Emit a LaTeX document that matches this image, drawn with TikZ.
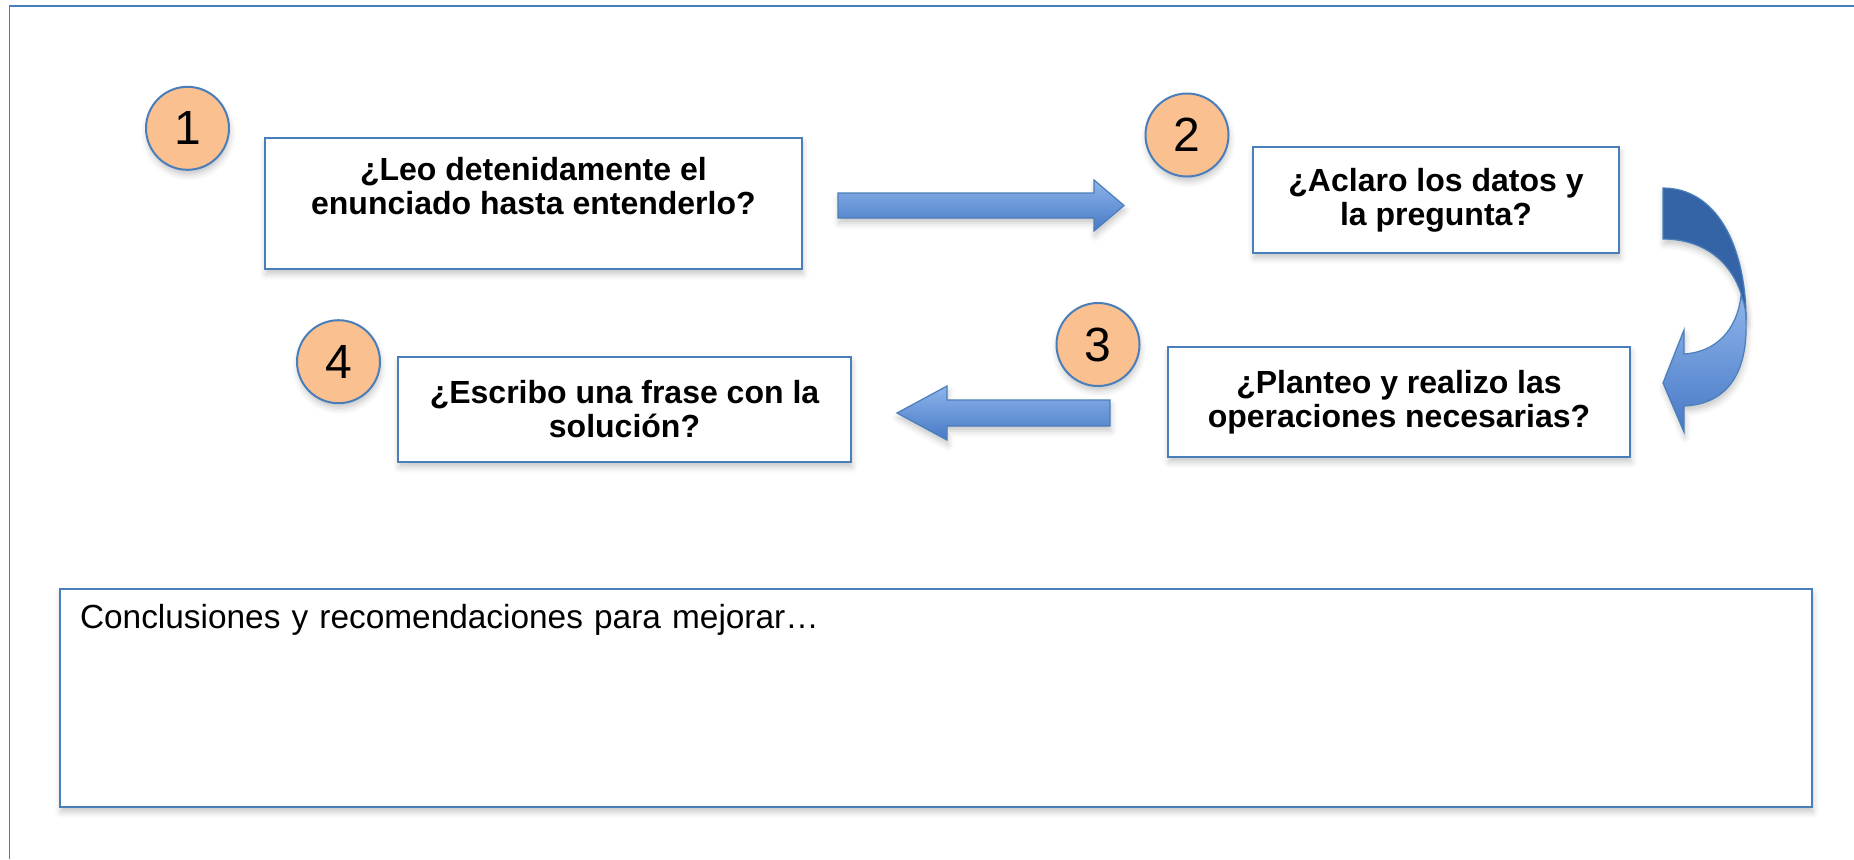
\documentclass[tikz,border=0pt]{standalone}
\usepackage{fontspec}
\setmainfont{Liberation Sans}
\usetikzlibrary{shadows.blur}

\definecolor{boxblue}{HTML}{4A7EBB}
\definecolor{peach}{HTML}{FAC090}
\definecolor{arrowlight}{HTML}{8DB4EA}
\definecolor{arrowdark}{HTML}{4879C6}
\definecolor{ribbondark}{HTML}{3464A6}

\tikzset{
  softshadow/.style={blur shadow={shadow xshift=0.5pt, shadow yshift=-2.5pt, shadow blur radius=3pt, shadow opacity=22}},
  qbox/.style={draw=boxblue, line width=1pt, fill=white, align=center, inner sep=0pt,
    font=\bfseries\fontsize{16}{17}\selectfont, softshadow},
  numcircle/.style={circle, draw=boxblue, line width=1pt, fill=peach, minimum size=41.5pt,
    inner sep=0pt, font=\fontsize{24}{28}\selectfont, softshadow},
  blockarrow/.style={draw=boxblue, line width=0.6pt, top color=arrowlight, bottom color=arrowdark, softshadow}
}

\begin{document}
\begin{tikzpicture}[x=0.5pt, y=-0.5pt]
        \useasboundingbox (0,0) rectangle (1854,859);

        % Outer frame
        \draw[boxblue, line width=0.8pt] (9.3,859) -- (9.3,6) -- (1854,6);

        % Question boxes
        \node[qbox, minimum width=268.5pt, minimum height=65.5pt, text depth=18pt] (leo) at (533.4,203.5) {¿Leo detenidamente el\\enunciado hasta entenderlo?};

        \node[qbox, minimum width=183pt, minimum height=53pt] (aclaro) at (1436,200) {¿Aclaro los datos y\\la pregunta?};

        \node[qbox, minimum width=231pt, minimum height=55pt] (planteo) at (1399,402) {¿Planteo y realizo las\\operaciones necesarias?};

        \node[qbox, minimum width=226.5pt, minimum height=52.5pt] (escribo) at (624.5,409.5) {¿Escribo una frase con la\\solución?};

        % Step numbers
        \node[numcircle] (n1) at (187.5,128.3) {1};
        \node[numcircle] (n2) at (1187,135) {2};
        \node[numcircle] (n3) at (1098,344.5) {3};
        \node[numcircle] (n4) at (338.5,361.7) {4};

        % Block arrows between the steps
        \draw[blockarrow] (838,193) -- (1094,193) -- (1094,180) -- (1124,205.5) -- (1094,231) -- (1094,218) -- (838,218) -- cycle;
        \draw[blockarrow] (1110,400) -- (947,400) -- (947,386) -- (897,413) -- (947,440) -- (947,426) -- (1110,426) -- cycle;

        % Curved arrow from step 2 down to step 3
        \draw[boxblue, line width=0.6pt, fill=ribbondark, softshadow] (1663,188) .. controls (1716,188) and (1746,245) .. (1746,320) .. controls (1743,272) and (1712,239) .. (1663,239) -- cycle;
        \draw[blockarrow] (1741,296) .. controls (1737,330) and (1716,352) .. (1684,354) -- (1684,330) -- (1663,383) -- (1684,432) -- (1684,406) .. controls (1728,404) and (1748,372) .. (1746,320) .. controls (1746,310) and (1744,302) .. (1741,296) -- cycle;

        % Notes box
        \node[draw=boxblue, line width=1pt, fill=white, softshadow, anchor=north west, align=left,
              inner xsep=10pt, inner ysep=0pt, text width=856pt, text height=19.5pt, text depth=89.5pt,
              font=\fontsize{16.7}{19}\selectfont] (notes) at (59,588) {Conclusiones y recomendaciones para mejorar…};
\end{tikzpicture}
\end{document}
